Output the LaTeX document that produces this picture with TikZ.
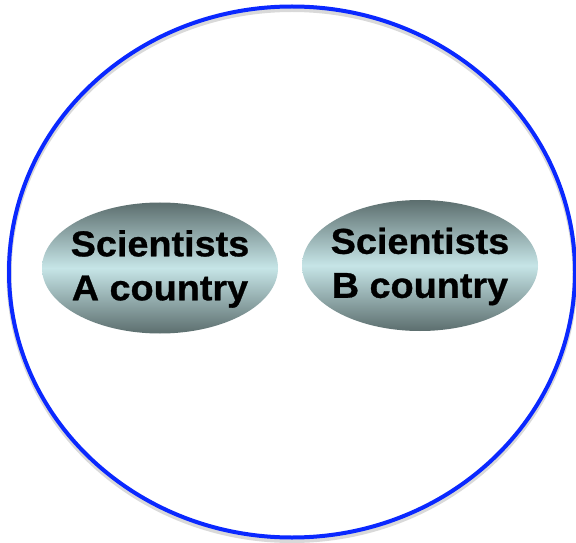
\documentclass[tikz,border=0pt]{standalone}
\usepackage{fontspec}
\newfontfamily\lab[FakeStretch=1.05,FakeBold=0.8]{Liberation Sans}
\usetikzlibrary{shapes.geometric}
\definecolor{ringblue}{RGB}{10,40,255}
\definecolor{ovaldark}{RGB}{92,110,110}
\definecolor{ovallight}{RGB}{198,229,231}
\tikzset{
  ring/.style={draw=ringblue, line width=4pt},
  ringshadow/.style={draw=black, opacity=0.15, line width=5pt},
  oval/.style={ellipse, minimum width=236pt, minimum height=131pt, inner sep=0pt,
    top color=ovaldark, bottom color=ovaldark, middle color=ovallight},
  ovaltext/.style={align=center, inner sep=0pt,
    font=\lab\bfseries\fontsize{36}{44}\selectfont}
}
\begin{document}
\begin{tikzpicture}[x=1pt,y=1pt]
\useasboundingbox (0,0) rectangle (576,542);
\fill[white] (0,0) rectangle (576,542);
\coordinate (c) at (292,270);
\draw[ringshadow] ([yshift=-3pt]c) ellipse [x radius=283, y radius=265.5];
\draw[ring] (c) ellipse [x radius=283, y radius=265.5];
\node[oval] (a) at (160,274) {};
\node[oval] (b) at (420,276.5) {};
\node[ovaltext] (ta) at ([yshift=-1pt]a.center) {Scientists\\A country};
\node[ovaltext] (tb) at ([yshift=-1pt]b.center) {Scientists\\B country};
\end{tikzpicture}
\end{document}
